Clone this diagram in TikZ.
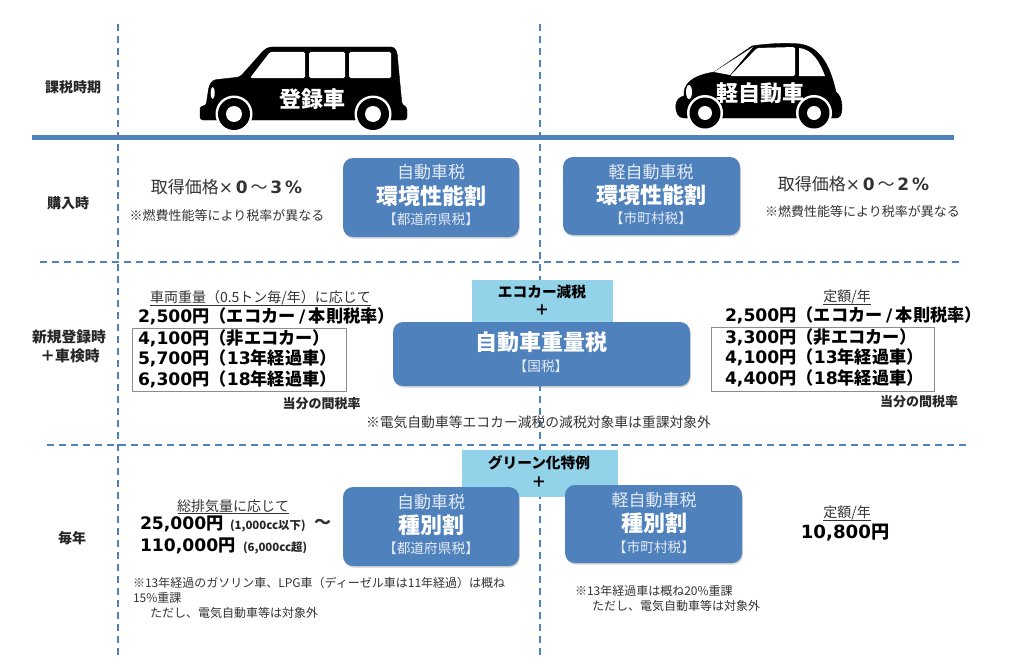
\documentclass[tikz,border=0pt]{standalone}
\usepackage{fontspec}
\setmainfont{Noto Sans CJK JP}
\newfontfamily\latf{DejaVu Sans}
\usetikzlibrary{shadows}
\definecolor{bluebox}{HTML}{4F81BD}
\definecolor{lightbox}{HTML}{93D3EA}
\definecolor{txt}{HTML}{333333}
\definecolor{pale}{HTML}{E4EBF5}
\newcommand{\sz}[1]{\fontsize{#1}{#1}\selectfont}
\newcommand{\num}[1]{{\latf\bfseries #1}}
\newcommand{\yen}[1]{\num{#1}円}
\tikzset{
  every node/.style={inner sep=0pt,outer sep=0pt},
  divider/.style={draw=bluebox,line width=1.6pt,dash pattern=on 7pt off 5pt},
  taxbox/.style={fill=bluebox,rounded corners=10pt,drop shadow={shadow xshift=.8pt,shadow yshift=-1.6pt,opacity=.28,fill=black!60}},
  lightrect/.style={fill=lightbox},
  frameline/.style={draw=black!45,line width=.9pt},
  rowhead/.style={font=\sz{14}\bfseries,text=black!85,align=center},
  paletxt/.style={font=\sz{17},text=pale},
  palesub/.style={font=\sz{13.7},text=pale},
  whitebig/.style={font=\sz{22}\bfseries,text=white},
  note/.style={font=\sz{12},text=txt,anchor=west},
  price/.style={font=\sz{17.2}\bfseries,text=black,anchor=west},
  cond/.style={font=\sz{14},text=txt},
  ratehead/.style={font=\sz{13}\bfseries,text=black!85},
  lighttxt/.style={font=\sz{14.7}\bfseries,text=black},
  ul/.style={draw=txt,line width=.7pt},
  carbody/.style={fill=black},
  carglass/.style={fill=white,rounded corners=1.5pt},
  smallcc/.style={font=\sz{11.4}\bfseries,text=black!85,anchor=west},
}
\begin{document}
\begin{tikzpicture}[x=1pt,y=-1pt]
\useasboundingbox (0,0) rectangle (1024,669);
% dividers
\coordinate (v1t) at (118,24); \coordinate (v1b) at (118,657);
\coordinate (v2t) at (540,24); \coordinate (v2b) at (540,657);
\coordinate (h0l) at (32,137); \coordinate (h0r) at (954,137);
\coordinate (h1l) at (40,262); \coordinate (h1r) at (960,262);
\coordinate (h2l) at (47,445); \coordinate (h2r) at (967,445);
\draw[divider] (h1l) -- (h1r);
\draw[divider] (h2l) -- (h2r);
\draw[bluebox,line width=5pt] (h0l) -- (h0r);
\draw[divider] (v1t) -- (v1b);
\draw[divider] (v2t) -- (v2b);
% van
\draw[carbody,rounded corners=3pt] (200,106) -- (206,106) -- (209,86) -- (213,80) -- (240,77) -- (264,50) -- (269,47) -- (394,47) -- (397,52) -- (402,105) -- (407,107) -- (407,120) -- (200,120) -- cycle;
\fill[white] (234,114) circle (18.5) (373,114) circle (18.5);
\fill[black] (234,114) circle (16) (373,114) circle (16);
\fill[white] (234,114) circle (8) (373,114) circle (8);
\fill[carglass] (250,78) -- (270,52) -- (305,52) -- (305,78) -- cycle;
\fill[carglass] (309,52) rectangle (345,78);
\fill[carglass] (349,52) rectangle (391,78);
\fill[white] (212.7,93) ellipse (2 and 6);
% kei car
\draw[carbody] (676,104) .. controls (677,99) and (680,97) .. (684,96) .. controls (683,85) and (690,76) .. (714,72) -- (752,46) .. controls (770,43) and (790,43) .. (800,44) .. controls (820,47) and (830,65) .. (836,92) .. controls (840,95) and (842,100) .. (842,108) .. controls (842,114) and (840,118) .. (836,118) -- (684,118) .. controls (678,118) and (675,112) .. (676,104) -- cycle;
\fill[white] (705,113) circle (18) (814,113) circle (18);
\fill[black] (705,113) circle (15.5) (814,113) circle (15.5);
\fill[white] (705,113) circle (7) (814,113) circle (7);
\fill[white] (714,72) -- (753,47) -- (730,75) -- cycle;
\fill[carglass] (730,76) -- (757,48) -- (795,47) -- (795,76) -- cycle;
\fill[white] (799,48) .. controls (812,49) and (820,62) .. (825,76) -- (799,76) -- cycle;
\fill[white] (689,92) ellipse (3 and 7);
\node[font=\sz{22}\bfseries,text=white] (van) at (312,99) {登録車};
\node[font=\sz{22}\bfseries,text=white] (kei) at (760,93) {軽自動車};
% row headers
\node[rowhead] (r1) at (73,87) {課税時期};
\node[rowhead] (r2) at (68,203) {購入時};
\node[rowhead,font=\sz{14.8}\bfseries] (r3a) at (69,337) {新規登録時};
\node[rowhead,font=\sz{14.8}\bfseries] (r3b) at (70,356) {＋車検時};
\node[rowhead] (r4) at (72,538) {毎年};
% purchase row
\node[taxbox,minimum width=176pt,minimum height=79pt] (b1) at (431,197.5) {};
\node[paletxt] (b1a) at (431,172) {自動車税};
\node[whitebig] (b1b) at (431,196) {環境性能割};
\node[palesub] (b1c) at (431,219) {【都道府県税】};
\node[taxbox,minimum width=177pt,minimum height=78pt] (b2) at (651.5,196) {};
\node[paletxt] (b2a) at (651,172) {軽自動車税};
\node[whitebig] (b2b) at (651,195) {環境性能割};
\node[palesub] (b2c) at (651,218) {【市町村税】};
\node[font=\sz{17},text=txt] (p1) at (226.5,187) {取得価格{\latf ×}\,\num{0}\,～\,\num{3}\,\num{\%}};
\node[font=\sz{13},text=txt] (p1n) at (227,216) {※燃費性能等により税率が異なる};
\node[font=\sz{17},text=txt] (p2) at (853.5,184) {取得価格{\latf ×}\,\num{0}\,～\,\num{2}\,\num{\%}};
\node[font=\sz{13},text=txt] (p2n) at (862.5,212) {※燃費性能等により税率が異なる};
% inspection row
\node[lightrect,minimum width=141pt,minimum height=43pt] (l1) at (542.5,301.5) {};
\node[taxbox,minimum width=297pt,minimum height=64pt] (b3) at (541.5,354) {};
\node[lighttxt] (l1a) at (542,292) {エコカー減税};
\node[lighttxt] (l1b) at (542,310) {＋};
\node[whitebig] (b3a) at (541,342) {自動車重量税};
\node[palesub] (b3b) at (541,366) {【国税】};
\node[cond] (c1) at (260.5,298) {車両重量（0.5トン毎/年）に応じて};
\draw[ul] (150,305.5) -- (371,305.5);
\node[price] (a0) at (138,316) {\yen{2,500}（エコカー\hspace{3.5pt}\num{/}\hspace{3.5pt}本則税率）};
\node[frameline,draw,minimum width=214pt,minimum height=63pt] (fa) at (239,359.5) {};
\node[price] (a1) at (138,338) {\yen{4,100}（非エコカー）};
\node[price] (a2) at (138,358) {\yen{5,700}（\num{13}年経過車）};
\node[price] (a3) at (138,379) {\yen{6,300}（\num{18}年経過車）};
\node[ratehead] (a4) at (321.5,404) {当分の間税率};
\node[font=\sz{13.8},text=txt] (c2) at (538.5,422) {※電気自動車等エコカー減税の減税対象車は重課対象外};
\node[cond] (c3) at (847,297) {定額/年};
\draw[ul] (823,304) -- (871,304);
\node[price] (d0) at (725,315) {\yen{2,500}（エコカー\hspace{3.5pt}\num{/}\hspace{3.5pt}本則税率）};
\node[frameline,draw,minimum width=223pt,minimum height=64pt] (fd) at (822.5,359) {};
\node[price] (d1) at (725,337) {\yen{3,300}（非エコカー）};
\node[price] (d2) at (725,357) {\yen{4,100}（\num{13}年経過車）};
\node[price] (d3) at (725,378) {\yen{4,400}（\num{18}年経過車）};
\node[ratehead] (d4) at (919,402) {当分の間税率};
% yearly row
\node[lightrect,minimum width=156pt,minimum height=47pt] (l2) at (540,473.5) {};
\node[taxbox,minimum width=176pt,minimum height=79pt] (b4) at (431,526.5) {};
\node[taxbox,minimum width=177pt,minimum height=78pt] (b5) at (653.5,524) {};
\node[lighttxt] (l2a) at (539,463) {グリーン化特例};
\node[lighttxt] (l2b) at (539,482) {＋};
\node[paletxt] (b4a) at (431,502) {自動車税};
\node[whitebig] (b4b) at (431,525) {種別割};
\node[palesub] (b4c) at (431,548) {【都道府県税】};
\node[paletxt] (b5a) at (654,500) {軽自動車税};
\node[whitebig] (b5b) at (654,523) {種別割};
\node[palesub] (b5c) at (654,547) {【市町村税】};
\node[cond] (c4) at (233,506) {総排気量に応じて};
\draw[ul] (178,513) -- (288.5,513);
\node[price] (e1) at (140,524) {\yen{25,000}};
\node[smallcc] (e1s) at (230,526) {(1,000cc以下)};
\node[font=\sz{17}\bfseries,text=txt] (e1t) at (322.5,524) {～};
\node[price] (e2) at (140,546) {\yen{110,000}};
\node[smallcc] (e2s) at (243,548) {(6,000cc超)};
\node[note] (n1) at (133,583) {※13年経過のガソリン車、LPG車（ディーゼル車は11年経過）は概ね};
\node[note] (n2) at (133,598) {15\%重課};
\node[note] (n3) at (150,613) {ただし、電気自動車等は対象外};
\node[note] (n4) at (575,591) {※13年経過車は概ね20\%重課};
\node[note] (n5) at (592,606) {ただし、電気自動車等は対象外};
\node[cond] (c5) at (847,513) {定額/年};
\draw[ul] (823,520) -- (871,520);
\node[price,anchor=center,font=\sz{18.2}\bfseries] (g1) at (845,533) {\yen{10,800}};
\end{tikzpicture}
\end{document}
